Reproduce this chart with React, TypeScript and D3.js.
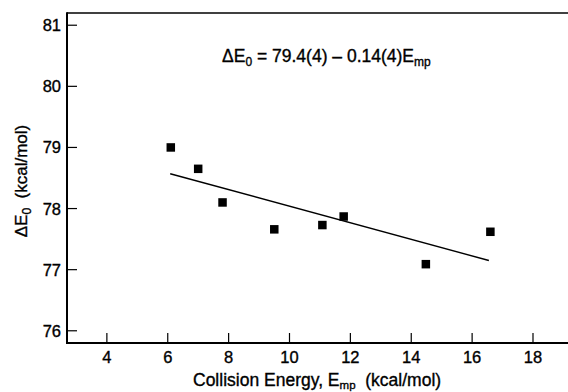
import React, { useEffect, useRef } from 'react';
import * as d3 from 'd3';

// measured collision energies (kcal/mol) and threshold energies
const energies = [6.1, 7.0, 7.8, 9.5, 11.08, 11.78, 14.48, 16.6];
const deltaE0 = [79.0, 78.65, 78.1, 77.66, 77.73, 77.87, 77.09, 77.62];

// linear fit drawn across the data
const fitX = [6.08, 16.55];
const fitY = [78.57, 77.15];

const xTicks = [4, 6, 8, 10, 12, 14, 16, 18];
const yTicks = [76, 77, 78, 79, 80, 81];

const width = 568;
const height = 392;
const margin = { top: 13, right: 0, bottom: 49, left: 67 };
const font = 'Liberation Sans, Arial, Helvetica, sans-serif';

export default function App() {
  const ref = useRef<SVGSVGElement>(null);

  useEffect(() => {
    const svg = d3.select(ref.current);
    svg.selectAll('*').remove();

    const x = d3.scaleLinear().domain([2.69, 19.15]).range([margin.left, width - margin.right]);
    const y = d3.scaleLinear().domain([75.8, 81.2]).range([height - margin.bottom, margin.top]);

    const x0 = margin.left;
    const y0 = height - margin.bottom;

    // text looks heavy in the scan, thicken a bit
    const heavy = (sel: any) => sel
      .style('font-family', font)
      .attr('stroke', '#000')
      .attr('stroke-width', 0.35);

    // frame: top border, left axis, bottom axis
    svg.append('line')
      .attr('x1', x0).attr('x2', width)
      .attr('y1', margin.top).attr('y2', margin.top)
      .attr('stroke', '#000').attr('stroke-width', 1.6);
    svg.append('line')
      .attr('x1', x0).attr('x2', x0)
      .attr('y1', margin.top - 0.8).attr('y2', y0 + 1)
      .attr('stroke', '#000').attr('stroke-width', 2);
    svg.append('line')
      .attr('x1', x0 - 1).attr('x2', width)
      .attr('y1', y0).attr('y2', y0)
      .attr('stroke', '#000').attr('stroke-width', 2);

    // y ticks (inward)
    const yt = svg.append('g');
    yt.selectAll('line').data(yTicks).enter().append('line')
      .attr('x1', x0).attr('x2', x0 + 10)
      .attr('y1', (d) => y(d)).attr('y2', (d) => y(d))
      .attr('stroke', '#000').attr('stroke-width', 1.2);
    yt.selectAll('text').data(yTicks).enter().append('text')
      .attr('x', x0 - 6)
      .attr('y', (d) => y(d) + 6)
      .attr('text-anchor', 'end')
      .call(heavy)
      .style('font-size', '16.5px')
      .text((d) => d);

    // x ticks (inward)
    const xt = svg.append('g');
    xt.selectAll('line').data(xTicks).enter().append('line')
      .attr('x1', (d) => x(d)).attr('x2', (d) => x(d))
      .attr('y1', y0).attr('y2', y0 - 10)
      .attr('stroke', '#000').attr('stroke-width', 1.2);
    xt.selectAll('text').data(xTicks).enter().append('text')
      .attr('x', (d) => x(d))
      .attr('y', y0 + 20)
      .attr('text-anchor', 'middle')
      .call(heavy)
      .style('font-size', '16.5px')
      .text((d) => d);

    // fit line
    const line = d3.line<number>()
      .x((d) => x(d))
      .y((_, i) => y(fitY[i]));
    svg.append('path')
      .attr('d', line(fitX))
      .attr('fill', 'none')
      .attr('stroke', '#000')
      .attr('stroke-width', 1.4);

    // data points
    const s = 8.5;
    svg.append('g').selectAll('rect')
      .data(energies).enter().append('rect')
      .attr('x', (d) => x(d) - s / 2)
      .attr('y', (_, i) => y(deltaE0[i]) - s / 2)
      .attr('width', s).attr('height', s)
      .attr('fill', '#000');

    // equation
    const eq = svg.append('text')
      .attr('x', 222).attr('y', 62)
      .call(heavy)
      .style('font-size', '17.5px');
    eq.append('tspan').text('ΔE');
    eq.append('tspan').attr('dy', 4).style('font-size', '12px').text('0');
    eq.append('tspan').attr('dy', -4).text(' = 79.4(4) – 0.14(4)E');
    eq.append('tspan').attr('dy', 4).style('font-size', '12px').text('mp');

    // x title
    const xl = svg.append('text')
      .attr('x', 193).attr('y', 386)
      .call(heavy)
      .style('font-size', '17.5px');
    xl.append('tspan').text('Collision Energy, E');
    xl.append('tspan').attr('dy', 2.5).style('font-size', '11.5px').text('mp');
    xl.append('tspan').attr('dy', -2.5).text('\u00a0 (kcal/mol)');

    // y title
    const yl = svg.append('text')
      .attr('transform', `translate(27, 181) rotate(-90)`)
      .attr('text-anchor', 'middle')
      .call(heavy)
      .style('font-size', '17px');
    yl.append('tspan').text('ΔE');
    yl.append('tspan').attr('dy', 4).style('font-size', '12px').text('0');
    yl.append('tspan').attr('dy', -4).text('\u00a0 (kcal/mol)');
  }, []);

  return (
    <svg
      ref={ref}
      width={width}
      height={height}
      style={{ position: 'absolute', left: 0, top: 0, background: '#fff' }}
    />
  );
}
